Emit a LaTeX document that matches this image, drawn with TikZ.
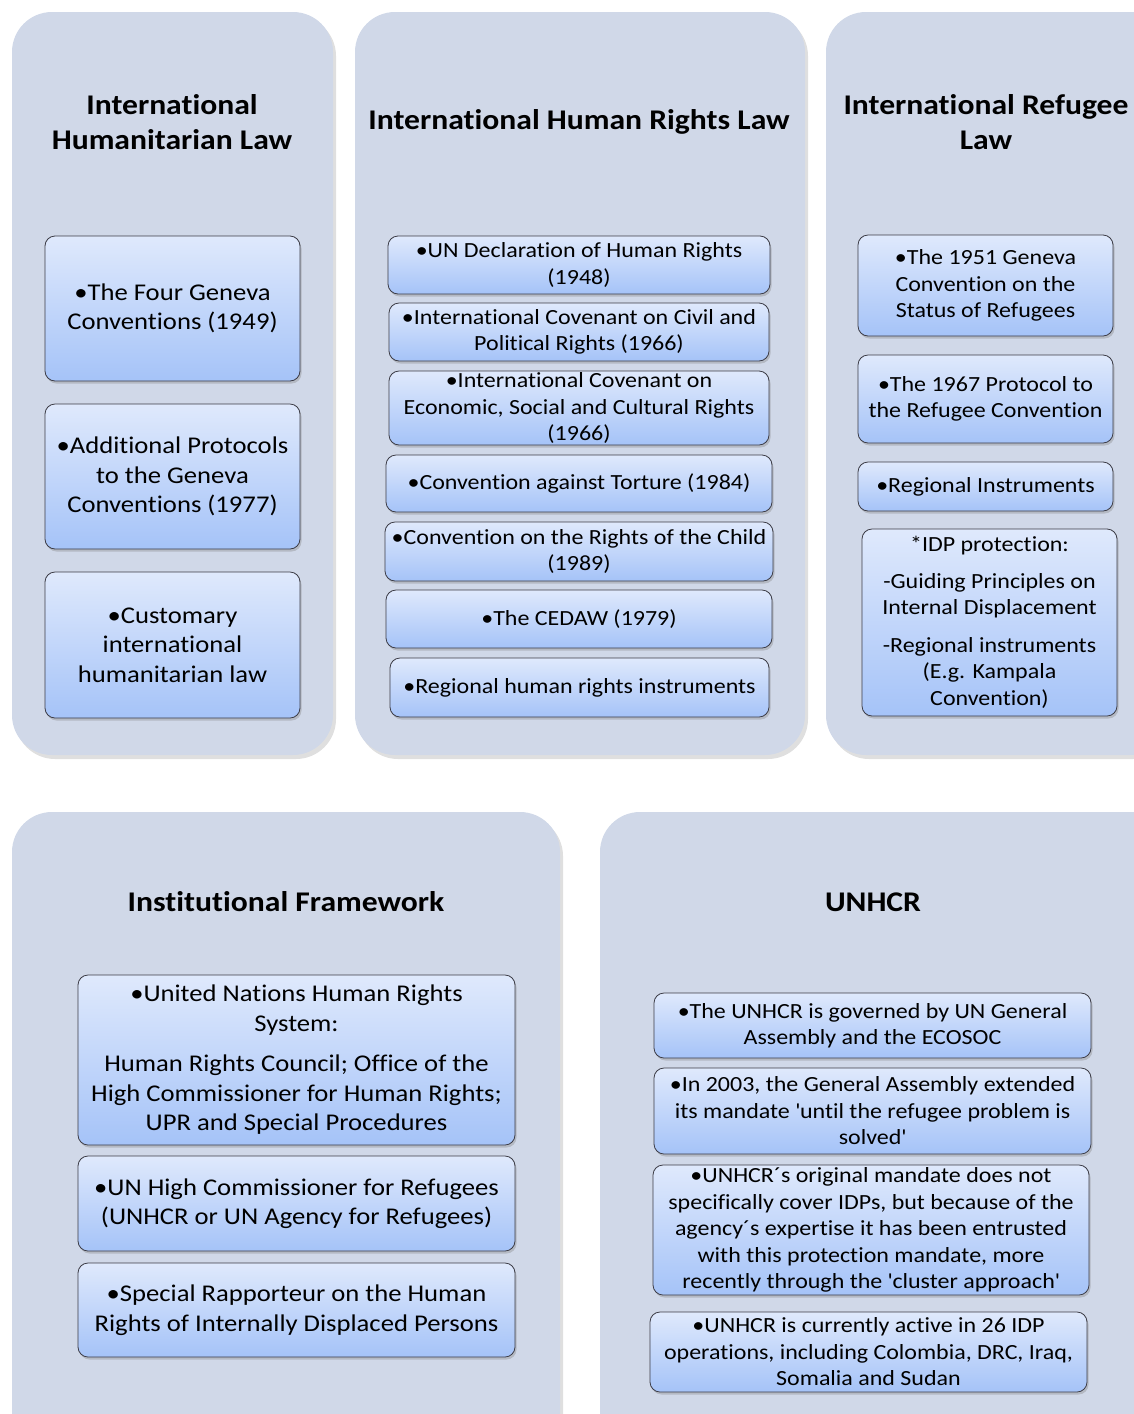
\documentclass[tikz,border=0pt]{standalone}
\usepackage{fontspec}
\setmainfont{Carlito}[FakeStretch=1.11, Ligatures=CommonOff]
\usetikzlibrary{shadows}

\definecolor{panelfill}{RGB}{208,216,232}
\definecolor{itemtop}{RGB}{223,233,252}
\definecolor{itembot}{RGB}{165,195,248}
\definecolor{itemline}{RGB}{60,60,70}

\newcommand\headfont{\bfseries\fontsize{28.5}{35}\selectfont}
\newcommand\bigitemfont{\fontsize{24}{29.5}\selectfont}
\newcommand\itemfont{\fontsize{21.6}{26.5}\selectfont}

\begin{document}
\begin{tikzpicture}[
    x=1pt, y=-1pt,
    panel/.style={fill=panelfill, rounded corners=40pt,
      drop shadow={shadow xshift=3pt, shadow yshift=-4pt, opacity=.25}},
    head/.style={align=center, font=\headfont},
    item/.style 2 args={draw=itemline, line width=.8pt, rounded corners=10pt,
      top color=itemtop, bottom color=itembot, align=center, inner sep=0pt,
      minimum width=#1pt, minimum height=#2pt, font=\itemfont,
      drop shadow={shadow xshift=1.5pt, shadow yshift=-2.5pt, opacity=.35}},
    bigitem/.style 2 args={item={#1}{#2}, font=\bigitemfont}]

      \clip (0,0) rectangle (1134,1414);

      % panels
      \fill[panel] (12,12) rectangle (333,755);
      \fill[panel] (355,12) rectangle (805,755);
      \fill[panel] (826,12) rectangle (1170,755);
      \fill[panel] (12,812) rectangle (560,1460);
      \fill[panel] (600,812) rectangle (1170,1460);

      \node[head] (ihl) at (172,122) {International\\Humanitarian Law};
      \node[head] (ihrl) at (579,122) {International Human Rights Law};
      \node[head] (irl) at (986,122) {International Refugee\\Law};
      \node[head] (inst) at (286,902) {Institutional Framework};
      \node[head] (unhcr) at (873,902) {UNHCR};

      % humanitarian law
      \node[bigitem={255}{145}] (geneva) at (172.5,308.5)
        {•The Four Geneva\\Conventions (1949)};
      \node[bigitem={255}{145}] (protocols) at (172.5,476.5)
        {•Additional Protocols\\to the Geneva\\Conventions (1977)};
      \node[bigitem={255}{146}] (customary) at (172.5,645)
        {•Customary\\international\\humanitarian law};

      % human rights law
      \node[item={382}{58}] (udhr) at (579,265)
        {•UN Declaration of Human Rights\\(1948)};
      \node[item={380}{58}] (iccpr) at (579,332)
        {•International Covenant on Civil and\\Political Rights (1966)};
      \node[item={380}{74}] (icescr) at (579,408)
        {•International Covenant on\\Economic, Social and Cultural Rights\\(1966)};
      \node[item={386}{57}] (cat) at (579,483.5)
        {•Convention against Torture (1984)};
      \node[item={388}{59}] (crc) at (579,551.5)
        {•Convention on the Rights of the Child\\(1989)};
      \node[item={386}{58}] (cedaw) at (579,619)
        {•The CEDAW (1979)};
      \node[item={379}{59}] (regional) at (579.5,687.5)
        {•Regional human rights instruments};

      % refugee law
      \node[item={255}{101}] (conv51) at (985.5,285.5)
        {•The 1951 Geneva\\Convention on the\\Status of Refugees};
      \node[item={255}{88}] (prot67) at (985.5,399)
        {•The 1967 Protocol to\\the Refugee Convention};
      \node[item={255}{49}] (regref) at (985.5,486.5)
        {•Regional Instruments};
      \node[item={255}{187}] (idp) at (989.5,622.5)
        {*IDP protection:\\[10pt]-Guiding Principles on\\Internal Displacement\\[11pt]
         -Regional instruments\\(E.g. Kampala\\Convention)};

      % institutional framework
      \node[bigitem={437}{170}] (unhrs) at (296.5,1060)
        {•United Nations Human Rights\\System:\\[11pt]Human Rights Council; Office of the\\
         High Commissioner for Human Rights;\\UPR and Special Procedures};
      \node[bigitem={437}{95}] (commissioner) at (296.5,1203.5)
        {•UN High Commissioner for Refugees\\(UNHCR or UN Agency for Refugees)};
      \node[bigitem={437}{94}] (rapporteur) at (296.5,1310)
        {•Special Rapporteur on the Human\\Rights of Internally Displaced Persons};

      % unhcr
      \node[item={437}{65}] (governed) at (872.5,1025.5)
        {•The UNHCR is governed by UN General\\Assembly and the ECOSOC};
      \node[item={437}{86}] (extended) at (872.5,1111)
        {•In 2003, the General Assembly extended\\its mandate \textquotesingle until the refugee problem is\\solved\textquotesingle};
      \node[item={436}{130}] (mandate) at (871,1230)
        {•UNHCR´s original mandate does not\\specifically cover IDPs, but because of the\\
         agency´s expertise it has been entrusted\\with this protection mandate, more\\
         recently through the \textquotesingle cluster approach\textquotesingle};
      \node[item={437}{80}] (active) at (868.5,1352)
        {•UNHCR is currently active in 26 IDP\\operations, including Colombia, DRC, Iraq,\\Somalia and Sudan};

    \end{tikzpicture}
\end{document}
